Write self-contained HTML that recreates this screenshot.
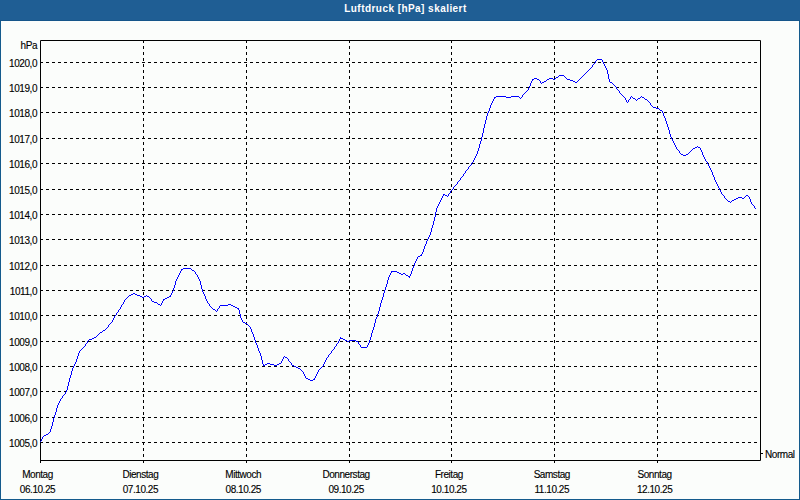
<!DOCTYPE html>
<html><head><meta charset="utf-8"><style>
html,body{margin:0;padding:0;}
body{width:800px;height:500px;overflow:hidden;position:relative;background:#fbfdfb;font-family:"Liberation Sans",sans-serif;}
#hdr{position:absolute;left:0;top:0;width:800px;height:20px;background:#1f5e94;border-bottom:1px solid #15558a;}
#ttl{position:absolute;left:5.5px;top:-1px;width:800px;text-align:center;color:#fff;font-weight:bold;font-size:10px;letter-spacing:0.45px;line-height:20px;}
#frame{position:absolute;left:0;top:21px;width:798px;height:478px;border:1px solid #145a8c;border-top:none;}
svg{position:absolute;left:0;top:0;}
svg text{font-family:"Liberation Sans",sans-serif;font-size:10px;fill:#000;letter-spacing:-0.45px;stroke:#000;stroke-width:0.12px;}
</style></head><body>
<div id="hdr"></div>
<div id="ttl">Luftdruck [hPa] skaliert</div>
<div id="frame"></div>
<svg width="800" height="500" viewBox="0 0 800 500">
<path d="M40.5 40.5H760.5V460.5H40.5Z" fill="none" stroke="#000" stroke-width="1"/><path d="M40.5 460V463" stroke="#000"/><path d="M40 442.5H760M40 417.5H760M40 391.5H760M40 366.5H760M40 341.5H760M40 315.5H760M40 290.5H760M40 265.5H760M40 239.5H760M40 214.5H760M40 189.5H760M40 163.5H760M40 138.5H760M40 112.5H760M40 87.5H760M40 62.5H760" stroke="#000" stroke-dasharray="3 3"/><path d="M143.5 40V460M246.5 40V460M349.5 40V460M451.5 40V460M554.5 40V460M657.5 40V460" stroke="#000" stroke-dasharray="3 3"/><path d="M143.5 460V463M246.5 460V463M349.5 460V463M451.5 460V463M554.5 460V463M657.5 460V463" stroke="#000"/><path d="M761 453.5H763" stroke="#000"/><path d="M597 59h5v1H597zM596 60h1v1H596zM602 60h1v1H602zM595 61h1v1H595zM602 61h1v1H602zM595 62h1v1H595zM603 62h1v1H603zM594 63h1v1H594zM603 63h1v1H603zM593 64h1v1H593zM604 64h1v1H604zM592 65h1v1H592zM604 65h1v1H604zM592 66h1v1H592zM605 66h1v1H605zM591 67h1v1H591zM605 67h1v1H605zM590 68h1v1H590zM606 68h1v1H606zM589 69h1v1H589zM606 69h1v1H606zM588 70h1v1H588zM607 70h1v1H607zM587 71h1v1H587zM607 71h1v1H607zM586 72h1v1H586zM607 72h1v1H607zM585 73h1v1H585zM607 73h1v1H607zM584 74h1v1H584zM608 74h1v1H608zM559 75h5v1H559zM583 75h1v1H583zM608 75h1v1H608zM558 76h1v1H558zM564 76h1v1H564zM582 76h1v1H582zM608 76h1v1H608zM556 77h2v1H556zM565 77h1v1H565zM581 77h1v1H581zM608 77h1v1H608zM534 78h3v1H534zM549 78h4v1H549zM555 78h1v1H555zM566 78h1v1H566zM580 78h1v1H580zM608 78h1v1H608zM532 79h2v1H532zM537 79h2v1H537zM547 79h2v1H547zM553 79h2v1H553zM567 79h3v1H567zM579 79h1v1H579zM609 79h1v1H609zM532 80h1v1H532zM539 80h1v1H539zM546 80h1v1H546zM570 80h3v1H570zM578 80h1v1H578zM609 80h1v1H609zM531 81h1v1H531zM540 81h1v1H540zM544 81h2v1H544zM573 81h2v1H573zM577 81h1v1H577zM609 81h1v1H609zM531 82h1v1H531zM540 82h1v1H540zM542 82h2v1H542zM575 82h2v1H575zM610 82h2v1H610zM530 83h1v1H530zM541 83h1v1H541zM612 83h1v1H612zM530 84h1v1H530zM613 84h1v1H613zM530 85h1v1H530zM614 85h1v1H614zM529 86h1v1H529zM615 86h1v1H615zM529 87h1v1H529zM616 87h1v1H616zM528 88h1v1H528zM616 88h1v1H616zM528 89h1v1H528zM617 89h1v1H617zM527 90h1v1H527zM618 90h1v1H618zM526 91h1v1H526zM619 91h1v1H619zM525 92h1v1H525zM619 92h1v1H619zM524 93h1v1H524zM620 93h1v1H620zM523 94h1v1H523zM621 94h1v1H621zM522 95h1v1H522zM622 95h1v1H622zM496 96h10v1H496zM511 96h8v1H511zM522 96h1v1H522zM623 96h1v1H623zM631 96h1v1H631zM641 96h1v1H641zM494 97h2v1H494zM506 97h5v1H506zM519 97h1v1H519zM521 97h1v1H521zM624 97h1v1H624zM630 97h1v1H630zM632 97h1v1H632zM640 97h1v1H640zM642 97h2v1H642zM494 98h1v1H494zM520 98h1v1H520zM625 98h1v1H625zM630 98h1v1H630zM633 98h2v1H633zM638 98h2v1H638zM644 98h1v1H644zM493 99h1v1H493zM625 99h1v1H625zM629 99h1v1H629zM635 99h1v1H635zM637 99h1v1H637zM645 99h2v1H645zM493 100h1v1H493zM626 100h1v1H626zM628 100h1v1H628zM636 100h1v1H636zM647 100h1v1H647zM492 101h1v1H492zM626 101h1v1H626zM628 101h1v1H628zM648 101h1v1H648zM492 102h1v1H492zM627 102h1v1H627zM649 102h1v1H649zM491 103h1v1H491zM650 103h1v1H650zM491 104h1v1H491zM650 104h1v1H650zM490 105h1v1H490zM651 105h1v1H651zM490 106h1v1H490zM652 106h1v1H652zM490 107h1v1H490zM653 107h3v1H653zM489 108h1v1H489zM656 108h3v1H656zM489 109h1v1H489zM659 109h1v1H659zM489 110h1v1H489zM660 110h2v1H660zM488 111h1v1H488zM662 111h1v1H662zM488 112h1v1H488zM662 112h1v1H662zM487 113h1v1H487zM663 113h1v1H663zM487 114h1v1H487zM663 114h1v1H663zM487 115h1v1H487zM663 115h1v1H663zM486 116h1v1H486zM664 116h1v1H664zM486 117h1v1H486zM664 117h1v1H664zM486 118h1v1H486zM665 118h1v1H665zM486 119h1v1H486zM665 119h1v1H665zM485 120h1v1H485zM665 120h1v1H665zM485 121h1v1H485zM666 121h1v1H666zM485 122h1v1H485zM666 122h1v1H666zM485 123h1v1H485zM666 123h1v1H666zM484 124h1v1H484zM667 124h1v1H667zM484 125h1v1H484zM667 125h1v1H667zM484 126h1v1H484zM667 126h1v1H667zM484 127h1v1H484zM668 127h1v1H668zM483 128h1v1H483zM668 128h1v1H668zM483 129h1v1H483zM668 129h1v1H668zM483 130h1v1H483zM669 130h1v1H669zM483 131h1v1H483zM669 131h1v1H669zM483 132h1v1H483zM669 132h1v1H669zM482 133h1v1H482zM669 133h1v1H669zM482 134h1v1H482zM670 134h1v1H670zM482 135h1v1H482zM670 135h1v1H670zM482 136h1v1H482zM670 136h1v1H670zM481 137h1v1H481zM671 137h1v1H671zM481 138h1v1H481zM671 138h1v1H671zM481 139h1v1H481zM672 139h1v1H672zM481 140h1v1H481zM672 140h1v1H672zM480 141h1v1H480zM673 141h1v1H673zM480 142h1v1H480zM673 142h1v1H673zM480 143h1v1H480zM674 143h1v1H674zM479 144h1v1H479zM674 144h1v1H674zM479 145h1v1H479zM675 145h1v1H675zM479 146h1v1H479zM675 146h1v1H675zM697 146h1v1H697zM479 147h1v1H479zM676 147h1v1H676zM695 147h2v1H695zM698 147h2v1H698zM478 148h1v1H478zM676 148h1v1H676zM693 148h2v1H693zM700 148h1v1H700zM478 149h1v1H478zM677 149h1v1H677zM692 149h1v1H692zM700 149h1v1H700zM478 150h1v1H478zM678 150h1v1H678zM691 150h1v1H691zM701 150h1v1H701zM477 151h1v1H477zM679 151h1v1H679zM690 151h1v1H690zM701 151h1v1H701zM477 152h1v1H477zM679 152h1v1H679zM689 152h1v1H689zM702 152h1v1H702zM477 153h1v1H477zM680 153h1v1H680zM688 153h1v1H688zM702 153h1v1H702zM476 154h1v1H476zM681 154h2v1H681zM686 154h2v1H686zM702 154h1v1H702zM476 155h1v1H476zM683 155h3v1H683zM703 155h1v1H703zM475 156h1v1H475zM703 156h1v1H703zM475 157h1v1H475zM704 157h1v1H704zM474 158h1v1H474zM704 158h1v1H704zM474 159h1v1H474zM705 159h1v1H705zM473 160h1v1H473zM705 160h1v1H705zM473 161h1v1H473zM706 161h1v1H706zM472 162h1v1H472zM707 162h1v1H707zM471 163h1v1H471zM707 163h1v1H707zM471 164h1v1H471zM708 164h1v1H708zM470 165h1v1H470zM708 165h1v1H708zM469 166h1v1H469zM709 166h1v1H709zM468 167h1v1H468zM709 167h1v1H709zM468 168h1v1H468zM710 168h1v1H710zM467 169h1v1H467zM710 169h1v1H710zM466 170h1v1H466zM711 170h1v1H711zM465 171h1v1H465zM711 171h1v1H711zM465 172h1v1H465zM712 172h1v1H712zM464 173h1v1H464zM712 173h1v1H712zM463 174h1v1H463zM712 174h1v1H712zM463 175h1v1H463zM713 175h1v1H713zM462 176h1v1H462zM713 176h1v1H713zM461 177h1v1H461zM714 177h1v1H714zM460 178h1v1H460zM714 178h1v1H714zM460 179h1v1H460zM714 179h1v1H714zM459 180h1v1H459zM715 180h1v1H715zM458 181h1v1H458zM715 181h1v1H715zM457 182h1v1H457zM716 182h1v1H716zM457 183h1v1H457zM716 183h1v1H716zM456 184h1v1H456zM717 184h1v1H717zM455 185h1v1H455zM717 185h1v1H717zM454 186h1v1H454zM718 186h1v1H718zM453 187h1v1H453zM718 187h1v1H718zM453 188h1v1H453zM719 188h1v1H719zM452 189h1v1H452zM719 189h1v1H719zM451 190h1v1H451zM720 190h1v1H720zM450 191h1v1H450zM720 191h1v1H720zM450 192h1v1H450zM721 192h1v1H721zM449 193h1v1H449zM721 193h1v1H721zM443 194h2v1H443zM448 194h1v1H448zM722 194h1v1H722zM443 195h1v1H443zM445 195h2v1H445zM448 195h1v1H448zM723 195h1v1H723zM746 195h2v1H746zM442 196h1v1H442zM447 196h1v1H447zM724 196h1v1H724zM745 196h1v1H745zM748 196h1v1H748zM442 197h1v1H442zM724 197h1v1H724zM738 197h4v1H738zM744 197h1v1H744zM749 197h1v1H749zM441 198h1v1H441zM725 198h1v1H725zM736 198h2v1H736zM742 198h2v1H742zM749 198h1v1H749zM441 199h1v1H441zM726 199h1v1H726zM734 199h2v1H734zM750 199h1v1H750zM440 200h1v1H440zM727 200h1v1H727zM732 200h2v1H732zM750 200h1v1H750zM440 201h1v1H440zM728 201h2v1H728zM731 201h1v1H731zM750 201h1v1H750zM439 202h1v1H439zM730 202h1v1H730zM751 202h1v1H751zM439 203h1v1H439zM751 203h1v1H751zM438 204h1v1H438zM752 204h1v1H752zM438 205h1v1H438zM753 205h1v1H753zM437 206h1v1H437zM754 206h1v1H754zM437 207h1v1H437zM754 207h1v1H754zM436 208h1v1H436zM755 208h1v1H755zM436 209h1v1H436zM436 210h1v1H436zM436 211h1v1H436zM435 212h1v1H435zM435 213h1v1H435zM435 214h1v1H435zM435 215h1v1H435zM435 216h1v1H435zM434 217h1v1H434zM434 218h1v1H434zM434 219h1v1H434zM434 220h1v1H434zM433 221h1v1H433zM433 222h1v1H433zM433 223h1v1H433zM433 224h1v1H433zM432 225h1v1H432zM432 226h1v1H432zM432 227h1v1H432zM431 228h1v1H431zM431 229h1v1H431zM431 230h1v1H431zM431 231h1v1H431zM430 232h1v1H430zM430 233h1v1H430zM430 234h1v1H430zM429 235h1v1H429zM429 236h1v1H429zM428 237h1v1H428zM428 238h1v1H428zM427 239h1v1H427zM427 240h1v1H427zM426 241h1v1H426zM426 242h1v1H426zM426 243h1v1H426zM425 244h1v1H425zM425 245h1v1H425zM424 246h1v1H424zM424 247h1v1H424zM424 248h1v1H424zM423 249h1v1H423zM423 250h1v1H423zM423 251h1v1H423zM422 252h1v1H422zM422 253h1v1H422zM421 254h1v1H421zM420 255h2v1H420zM418 256h2v1H418zM417 257h1v1H417zM417 258h1v1H417zM416 259h1v1H416zM416 260h1v1H416zM415 261h1v1H415zM415 262h1v1H415zM414 263h1v1H414zM414 264h1v1H414zM414 265h1v1H414zM413 266h1v1H413zM413 267h1v1H413zM183 268h8v1H183zM412 268h1v1H412zM181 269h2v1H181zM191 269h1v1H191zM412 269h1v1H412zM181 270h1v1H181zM192 270h2v1H192zM412 270h1v1H412zM180 271h1v1H180zM194 271h1v1H194zM391 271h6v1H391zM411 271h1v1H411zM180 272h1v1H180zM195 272h1v1H195zM391 272h1v1H391zM397 272h2v1H397zM411 272h1v1H411zM179 273h1v1H179zM195 273h1v1H195zM390 273h1v1H390zM399 273h2v1H399zM403 273h2v1H403zM411 273h1v1H411zM179 274h1v1H179zM196 274h1v1H196zM390 274h1v1H390zM401 274h2v1H401zM405 274h1v1H405zM410 274h1v1H410zM178 275h1v1H178zM197 275h1v1H197zM389 275h1v1H389zM406 275h2v1H406zM410 275h1v1H410zM178 276h1v1H178zM197 276h1v1H197zM389 276h1v1H389zM408 276h2v1H408zM177 277h1v1H177zM198 277h1v1H198zM388 277h1v1H388zM409 277h1v1H409zM177 278h1v1H177zM198 278h1v1H198zM388 278h1v1H388zM176 279h1v1H176zM199 279h1v1H199zM388 279h1v1H388zM176 280h1v1H176zM199 280h1v1H199zM387 280h1v1H387zM175 281h1v1H175zM200 281h1v1H200zM387 281h1v1H387zM175 282h1v1H175zM200 282h1v1H200zM387 282h1v1H387zM175 283h1v1H175zM200 283h1v1H200zM387 283h1v1H387zM175 284h1v1H175zM200 284h1v1H200zM386 284h1v1H386zM174 285h1v1H174zM201 285h1v1H201zM386 285h1v1H386zM174 286h1v1H174zM201 286h1v1H201zM386 286h1v1H386zM174 287h1v1H174zM201 287h1v1H201zM385 287h1v1H385zM173 288h1v1H173zM201 288h1v1H201zM385 288h1v1H385zM173 289h1v1H173zM202 289h1v1H202zM385 289h1v1H385zM173 290h1v1H173zM202 290h1v1H202zM384 290h1v1H384zM172 291h1v1H172zM202 291h1v1H202zM384 291h1v1H384zM172 292h1v1H172zM203 292h1v1H203zM384 292h1v1H384zM133 293h2v1H133zM171 293h1v1H171zM203 293h1v1H203zM383 293h1v1H383zM131 294h2v1H131zM135 294h2v1H135zM171 294h1v1H171zM204 294h1v1H204zM383 294h1v1H383zM129 295h2v1H129zM137 295h3v1H137zM146 295h1v1H146zM170 295h1v1H170zM204 295h1v1H204zM383 295h1v1H383zM128 296h1v1H128zM140 296h2v1H140zM144 296h2v1H144zM147 296h2v1H147zM169 296h2v1H169zM205 296h1v1H205zM383 296h1v1H383zM127 297h1v1H127zM142 297h2v1H142zM149 297h1v1H149zM167 297h2v1H167zM205 297h1v1H205zM382 297h1v1H382zM126 298h1v1H126zM150 298h1v1H150zM165 298h2v1H165zM205 298h1v1H205zM382 298h1v1H382zM125 299h1v1H125zM151 299h1v1H151zM163 299h2v1H163zM206 299h1v1H206zM382 299h1v1H382zM124 300h1v1H124zM151 300h1v1H151zM163 300h1v1H163zM206 300h1v1H206zM381 300h1v1H381zM124 301h1v1H124zM152 301h2v1H152zM162 301h1v1H162zM207 301h1v1H207zM381 301h1v1H381zM123 302h1v1H123zM154 302h3v1H154zM162 302h1v1H162zM207 302h1v1H207zM381 302h1v1H381zM123 303h1v1H123zM157 303h1v1H157zM161 303h1v1H161zM208 303h1v1H208zM380 303h1v1H380zM122 304h1v1H122zM158 304h2v1H158zM161 304h1v1H161zM209 304h1v1H209zM228 304h3v1H228zM380 304h1v1H380zM121 305h1v1H121zM160 305h1v1H160zM209 305h1v1H209zM220 305h8v1H220zM231 305h2v1H231zM380 305h1v1H380zM121 306h1v1H121zM210 306h1v1H210zM219 306h1v1H219zM233 306h2v1H233zM380 306h1v1H380zM120 307h1v1H120zM211 307h1v1H211zM219 307h1v1H219zM235 307h2v1H235zM379 307h1v1H379zM120 308h1v1H120zM212 308h1v1H212zM218 308h1v1H218zM237 308h2v1H237zM379 308h1v1H379zM119 309h1v1H119zM213 309h2v1H213zM217 309h1v1H217zM238 309h1v1H238zM379 309h1v1H379zM118 310h1v1H118zM215 310h1v1H215zM217 310h1v1H217zM239 310h1v1H239zM379 310h1v1H379zM118 311h1v1H118zM216 311h1v1H216zM239 311h1v1H239zM378 311h1v1H378zM117 312h1v1H117zM239 312h1v1H239zM378 312h1v1H378zM116 313h1v1H116zM239 313h1v1H239zM378 313h1v1H378zM116 314h1v1H116zM240 314h1v1H240zM377 314h1v1H377zM115 315h1v1H115zM240 315h1v1H240zM377 315h1v1H377zM114 316h1v1H114zM240 316h1v1H240zM377 316h1v1H377zM114 317h1v1H114zM240 317h1v1H240zM376 317h1v1H376zM113 318h1v1H113zM241 318h1v1H241zM376 318h1v1H376zM113 319h1v1H113zM241 319h1v1H241zM375 319h1v1H375zM112 320h1v1H112zM242 320h1v1H242zM375 320h1v1H375zM112 321h1v1H112zM242 321h1v1H242zM375 321h1v1H375zM111 322h1v1H111zM243 322h2v1H243zM375 322h1v1H375zM110 323h1v1H110zM245 323h2v1H245zM374 323h1v1H374zM109 324h1v1H109zM247 324h1v1H247zM374 324h1v1H374zM108 325h1v1H108zM248 325h1v1H248zM374 325h1v1H374zM108 326h1v1H108zM249 326h1v1H249zM374 326h1v1H374zM107 327h1v1H107zM250 327h1v1H250zM373 327h1v1H373zM106 328h1v1H106zM250 328h1v1H250zM373 328h1v1H373zM105 329h1v1H105zM251 329h1v1H251zM373 329h1v1H373zM103 330h2v1H103zM251 330h1v1H251zM372 330h1v1H372zM102 331h1v1H102zM251 331h1v1H251zM372 331h1v1H372zM100 332h2v1H100zM252 332h1v1H252zM372 332h1v1H372zM99 333h1v1H99zM252 333h1v1H252zM371 333h1v1H371zM98 334h1v1H98zM253 334h1v1H253zM371 334h1v1H371zM97 335h1v1H97zM253 335h1v1H253zM371 335h1v1H371zM96 336h1v1H96zM253 336h1v1H253zM371 336h1v1H371zM94 337h2v1H94zM254 337h1v1H254zM340 337h1v1H340zM370 337h1v1H370zM92 338h2v1H92zM254 338h1v1H254zM340 338h3v1H340zM370 338h1v1H370zM89 339h3v1H89zM254 339h1v1H254zM339 339h1v1H339zM343 339h2v1H343zM370 339h1v1H370zM88 340h1v1H88zM255 340h1v1H255zM339 340h1v1H339zM345 340h2v1H345zM349 340h7v1H349zM369 340h1v1H369zM87 341h1v1H87zM255 341h1v1H255zM338 341h1v1H338zM347 341h2v1H347zM356 341h2v1H356zM369 341h1v1H369zM87 342h1v1H87zM255 342h1v1H255zM338 342h1v1H338zM358 342h1v1H358zM369 342h1v1H369zM86 343h1v1H86zM256 343h1v1H256zM337 343h1v1H337zM358 343h1v1H358zM368 343h1v1H368zM85 344h1v1H85zM256 344h1v1H256zM336 344h1v1H336zM359 344h1v1H359zM368 344h1v1H368zM85 345h1v1H85zM257 345h1v1H257zM336 345h1v1H336zM360 345h1v1H360zM367 345h1v1H367zM84 346h1v1H84zM257 346h1v1H257zM335 346h1v1H335zM360 346h1v1H360zM367 346h1v1H367zM83 347h1v1H83zM257 347h1v1H257zM334 347h1v1H334zM361 347h6v1H361zM82 348h1v1H82zM258 348h1v1H258zM334 348h1v1H334zM81 349h1v1H81zM258 349h1v1H258zM333 349h1v1H333zM80 350h1v1H80zM258 350h1v1H258zM332 350h1v1H332zM79 351h1v1H79zM259 351h1v1H259zM331 351h1v1H331zM79 352h1v1H79zM259 352h1v1H259zM331 352h1v1H331zM78 353h1v1H78zM260 353h1v1H260zM330 353h1v1H330zM78 354h1v1H78zM260 354h1v1H260zM329 354h1v1H329zM78 355h1v1H78zM260 355h1v1H260zM328 355h1v1H328zM77 356h1v1H77zM261 356h1v1H261zM284 356h1v1H284zM328 356h1v1H328zM77 357h1v1H77zM261 357h1v1H261zM283 357h1v1H283zM285 357h2v1H285zM327 357h1v1H327zM77 358h1v1H77zM261 358h1v1H261zM283 358h1v1H283zM287 358h1v1H287zM326 358h1v1H326zM76 359h1v1H76zM261 359h1v1H261zM282 359h1v1H282zM288 359h1v1H288zM326 359h1v1H326zM76 360h1v1H76zM262 360h1v1H262zM282 360h1v1H282zM288 360h1v1H288zM325 360h1v1H325zM76 361h1v1H76zM262 361h1v1H262zM281 361h1v1H281zM289 361h1v1H289zM325 361h1v1H325zM75 362h1v1H75zM262 362h1v1H262zM281 362h1v1H281zM290 362h1v1H290zM324 362h1v1H324zM75 363h1v1H75zM262 363h1v1H262zM267 363h3v1H267zM279 363h2v1H279zM291 363h1v1H291zM324 363h1v1H324zM74 364h1v1H74zM263 364h1v1H263zM265 364h2v1H265zM270 364h4v1H270zM277 364h2v1H277zM291 364h1v1H291zM323 364h1v1H323zM74 365h1v1H74zM263 365h2v1H263zM274 365h3v1H274zM292 365h2v1H292zM323 365h1v1H323zM73 366h1v1H73zM294 366h2v1H294zM322 366h1v1H322zM73 367h1v1H73zM296 367h2v1H296zM321 367h1v1H321zM72 368h1v1H72zM298 368h2v1H298zM320 368h1v1H320zM72 369h1v1H72zM300 369h1v1H300zM319 369h1v1H319zM72 370h1v1H72zM301 370h1v1H301zM318 370h1v1H318zM71 371h1v1H71zM302 371h1v1H302zM318 371h1v1H318zM71 372h1v1H71zM303 372h1v1H303zM317 372h1v1H317zM71 373h1v1H71zM303 373h1v1H303zM317 373h1v1H317zM71 374h1v1H71zM304 374h1v1H304zM316 374h1v1H316zM70 375h1v1H70zM304 375h1v1H304zM316 375h1v1H316zM70 376h1v1H70zM305 376h1v1H305zM315 376h1v1H315zM70 377h1v1H70zM305 377h1v1H305zM315 377h1v1H315zM69 378h1v1H69zM306 378h2v1H306zM314 378h1v1H314zM69 379h1v1H69zM308 379h2v1H308zM313 379h2v1H313zM69 380h1v1H69zM310 380h3v1H310zM69 381h1v1H69zM68 382h1v1H68zM68 383h1v1H68zM68 384h1v1H68zM68 385h1v1H68zM67 386h1v1H67zM67 387h1v1H67zM67 388h1v1H67zM67 389h1v1H67zM66 390h1v1H66zM66 391h1v1H66zM65 392h1v1H65zM65 393h1v1H65zM64 394h1v1H64zM63 395h1v1H63zM62 396h1v1H62zM62 397h1v1H62zM61 398h1v1H61zM60 399h1v1H60zM60 400h1v1H60zM59 401h1v1H59zM59 402h1v1H59zM58 403h1v1H58zM58 404h1v1H58zM57 405h1v1H57zM57 406h1v1H57zM57 407h1v1H57zM56 408h1v1H56zM56 409h1v1H56zM56 410h1v1H56zM56 411h1v1H56zM55 412h1v1H55zM55 413h1v1H55zM55 414h1v1H55zM54 415h1v1H54zM54 416h1v1H54zM54 417h1v1H54zM53 418h1v1H53zM53 419h1v1H53zM53 420h1v1H53zM53 421h1v1H53zM52 422h1v1H52zM52 423h1v1H52zM52 424h1v1H52zM52 425h1v1H52zM51 426h1v1H51zM51 427h1v1H51zM51 428h1v1H51zM50 429h1v1H50zM50 430h1v1H50zM50 431h1v1H50zM49 432h1v1H49zM48 433h1v1H48zM46 434h2v1H46zM44 435h2v1H44zM43 436h1v1H43zM42 437h1v1H42zM42 438h1v1H42zM41 439h1v1H41zM41 440h1v1H41zM40 441h1v1H40z" fill="#0000ff" shape-rendering="crispEdges"/>
<text x="37" y="446.5" text-anchor="end">1005,0</text><text x="37" y="421.5" text-anchor="end">1006,0</text><text x="37" y="395.5" text-anchor="end">1007,0</text><text x="37" y="370.5" text-anchor="end">1008,0</text><text x="37" y="345.5" text-anchor="end">1009,0</text><text x="37" y="319.5" text-anchor="end">1010,0</text><text x="37" y="294.5" text-anchor="end">1011,0</text><text x="37" y="269.5" text-anchor="end">1012,0</text><text x="37" y="243.5" text-anchor="end">1013,0</text><text x="37" y="218.5" text-anchor="end">1014,0</text><text x="37" y="193.5" text-anchor="end">1015,0</text><text x="37" y="167.5" text-anchor="end">1016,0</text><text x="37" y="142.5" text-anchor="end">1017,0</text><text x="37" y="116.5" text-anchor="end">1018,0</text><text x="37" y="91.5" text-anchor="end">1019,0</text><text x="37" y="66.5" text-anchor="end">1020,0</text><text x="37" y="48.5" text-anchor="end">hPa</text><text x="37.5" y="477.5" text-anchor="middle">Montag</text><text x="37.5" y="492.5" text-anchor="middle">06.10.25</text><text x="140.4" y="477.5" text-anchor="middle">Dienstag</text><text x="140.4" y="492.5" text-anchor="middle">07.10.25</text><text x="243.2" y="477.5" text-anchor="middle">Mittwoch</text><text x="243.2" y="492.5" text-anchor="middle">08.10.25</text><text x="346.1" y="477.5" text-anchor="middle">Donnerstag</text><text x="346.1" y="492.5" text-anchor="middle">09.10.25</text><text x="448.9" y="477.5" text-anchor="middle">Freitag</text><text x="448.9" y="492.5" text-anchor="middle">10.10.25</text><text x="551.8" y="477.5" text-anchor="middle">Samstag</text><text x="551.8" y="492.5" text-anchor="middle">11.10.25</text><text x="654.6" y="477.5" text-anchor="middle">Sonntag</text><text x="654.6" y="492.5" text-anchor="middle">12.10.25</text><text x="765" y="457.5">Normal</text>
</svg>
</body></html>
